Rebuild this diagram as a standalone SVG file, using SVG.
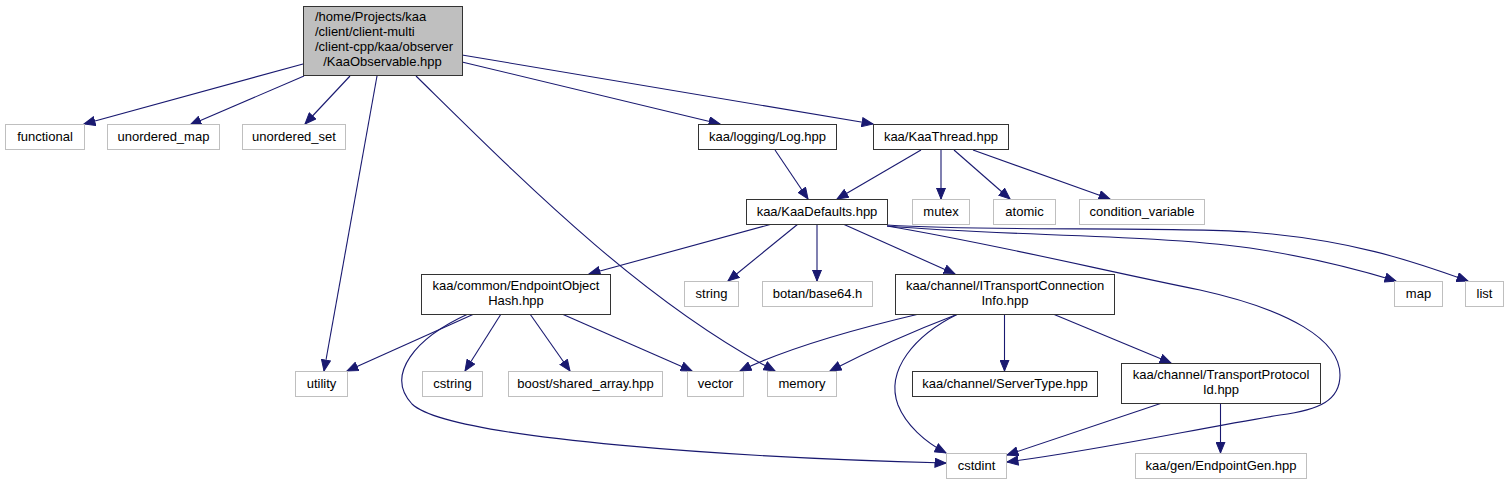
<svg xmlns="http://www.w3.org/2000/svg" width="1509" height="484" viewBox="0 0 1509 484">
<defs>
<style>
text{font-family:"Liberation Sans",Arial,Helvetica,sans-serif;font-size:13px;fill:#000;text-anchor:middle}
.d rect{fill:#fff;stroke:#333;stroke-width:1}
.u rect{fill:#fff;stroke:#bfbfbf;stroke-width:1}
#edges path{fill:none;stroke:#191970;stroke-width:1.1;marker-end:url(#arr)}
</style>
<marker id="arr" markerUnits="userSpaceOnUse" viewBox="0 0 12 10" markerWidth="12" markerHeight="10" refX="11.5" refY="5" orient="auto">
<path d="M0.5,0.5 L11.5,5 L0.5,9.5 Z" fill="#191970" stroke="#191970" stroke-width="1"/>
</marker>
</defs>
<rect width="1509" height="484" fill="#fff"/>
<g id="edges">
<path d="M303,64 L84,124"/>
<path d="M304,76 L190,125"/>
<path d="M350,76 L305,124"/>
<path d="M377,76 L324,371"/>
<path d="M416,76 C520,178 640,300 775,371"/>
<path d="M462,62 L720,124"/>
<path d="M462,55 L873,124"/>
<path d="M775,150 L808,199"/>
<path d="M921,150 L837,199"/>
<path d="M941,150 L941,199"/>
<path d="M954,150 L1010,199"/>
<path d="M973,150 L1110,199"/>
<path d="M772,224 L589,274"/>
<path d="M798,224 L728,281"/>
<path d="M817,224 L817,281"/>
<path d="M843,224 L955,274"/>
<path d="M887,226 C1000,245 1100,270 1200,290 C1290,310 1340,340 1340,375 C1340,400 1320,410 1280,415 C1200,428 1100,450 1007,462"/>
<path d="M887,226 C1000,236 1150,234 1250,248 C1310,257 1360,270 1396,281"/>
<path d="M887,225 C1000,232 1150,226 1250,232 C1350,240 1410,260 1468,281"/>
<path d="M474,314 L347,371"/>
<path d="M468,314 C415,338 385,375 412,404 C450,440 750,458 946,463"/>
<path d="M501,314 L465,371"/>
<path d="M530,314 L570,371"/>
<path d="M562,314 L692,371"/>
<path d="M919,314 Q800,342 740,371"/>
<path d="M958,314 Q890,340 830,371"/>
<path d="M958,314 C915,335 885,370 898,405 C906,425 925,442 946,453"/>
<path d="M1004.5,314 L1004.5,371"/>
<path d="M1053,314 L1171,363"/>
<path d="M1162,403 L1007,455"/>
<path d="M1220.5,403 L1220.5,453"/>
</g>
<g id="n_root"><rect x="303.5" y="6.5" width="159" height="69" fill="#bfbfbf" stroke="#333"/>
<text x="315" y="21" style="text-anchor:start">/home/Projects/kaa</text>
<text x="315" y="36" style="text-anchor:start">/client/client-multi</text>
<text x="315" y="51" style="text-anchor:start">/client-cpp/kaa/observer</text>
<text x="382.5" y="66">/KaaObservable.hpp</text></g>
<g id="n_functional" class="u"><rect x="5.5" y="124.5" width="79" height="25"/><text x="45" y="141">functional</text></g>
<g id="n_unordered_map" class="u"><rect x="107.5" y="124.5" width="112" height="25"/><text x="163.5" y="141">unordered_map</text></g>
<g id="n_unordered_set" class="u"><rect x="242.5" y="124.5" width="103" height="25"/><text x="294" y="141">unordered_set</text></g>
<g id="n_log" class="d"><rect x="698.5" y="124.5" width="138" height="25"/><text x="767.5" y="141">kaa/logging/Log.hpp</text></g>
<g id="n_kaathread" class="d"><rect x="873.5" y="124.5" width="135" height="25"/><text x="941" y="141">kaa/KaaThread.hpp</text></g>
<g id="n_kaadefaults" class="d"><rect x="746.5" y="199.5" width="141" height="25"/><text x="817" y="216">kaa/KaaDefaults.hpp</text></g>
<g id="n_mutex" class="u"><rect x="912.5" y="199.5" width="57" height="25"/><text x="941" y="216">mutex</text></g>
<g id="n_atomic" class="u"><rect x="993.5" y="199.5" width="62" height="25"/><text x="1024.5" y="216">atomic</text></g>
<g id="n_condvar" class="u"><rect x="1079.5" y="199.5" width="125" height="25"/><text x="1142" y="216">condition_variable</text></g>
<g id="n_eohash" class="d"><rect x="421.5" y="274.5" width="189" height="40"/><text x="516" y="290">kaa/common/EndpointObject</text><text x="516" y="305">Hash.hpp</text></g>
<g id="n_string" class="u"><rect x="684.5" y="281.5" width="54" height="25"/><text x="711.5" y="298">string</text></g>
<g id="n_botan" class="u"><rect x="762.5" y="281.5" width="110" height="25"/><text x="817.5" y="298">botan/base64.h</text></g>
<g id="n_itci" class="d"><rect x="895.5" y="274.5" width="219" height="40"/><text x="1005" y="290">kaa/channel/ITransportConnection</text><text x="1005" y="305">Info.hpp</text></g>
<g id="n_map" class="u"><rect x="1394.5" y="281.5" width="48" height="25"/><text x="1418.5" y="298">map</text></g>
<g id="n_list" class="u"><rect x="1465.5" y="281.5" width="38" height="25"/><text x="1484.5" y="298">list</text></g>
<g id="n_utility" class="u"><rect x="295.5" y="371.5" width="52" height="25"/><text x="321.5" y="388">utility</text></g>
<g id="n_cstring" class="u"><rect x="422.5" y="371.5" width="60" height="25"/><text x="452.5" y="388">cstring</text></g>
<g id="n_boost" class="u"><rect x="508.5" y="371.5" width="154" height="25"/><text x="585.5" y="388">boost/shared_array.hpp</text></g>
<g id="n_vector" class="u"><rect x="687.5" y="371.5" width="56" height="25"/><text x="715.5" y="388">vector</text></g>
<g id="n_memory" class="u"><rect x="767.5" y="371.5" width="69" height="25"/><text x="802" y="388">memory</text></g>
<g id="n_servertype" class="d"><rect x="912.5" y="371.5" width="185" height="25"/><text x="1005" y="388">kaa/channel/ServerType.hpp</text></g>
<g id="n_tpid" class="d"><rect x="1121.5" y="363.5" width="199" height="40"/><text x="1221" y="379">kaa/channel/TransportProtocol</text><text x="1221" y="394">Id.hpp</text></g>
<g id="n_cstdint" class="u"><rect x="946.5" y="453.5" width="60" height="25"/><text x="976.5" y="470">cstdint</text></g>
<g id="n_epgen" class="u"><rect x="1135.5" y="453.5" width="171" height="25"/><text x="1221" y="470">kaa/gen/EndpointGen.hpp</text></g>
</svg>
